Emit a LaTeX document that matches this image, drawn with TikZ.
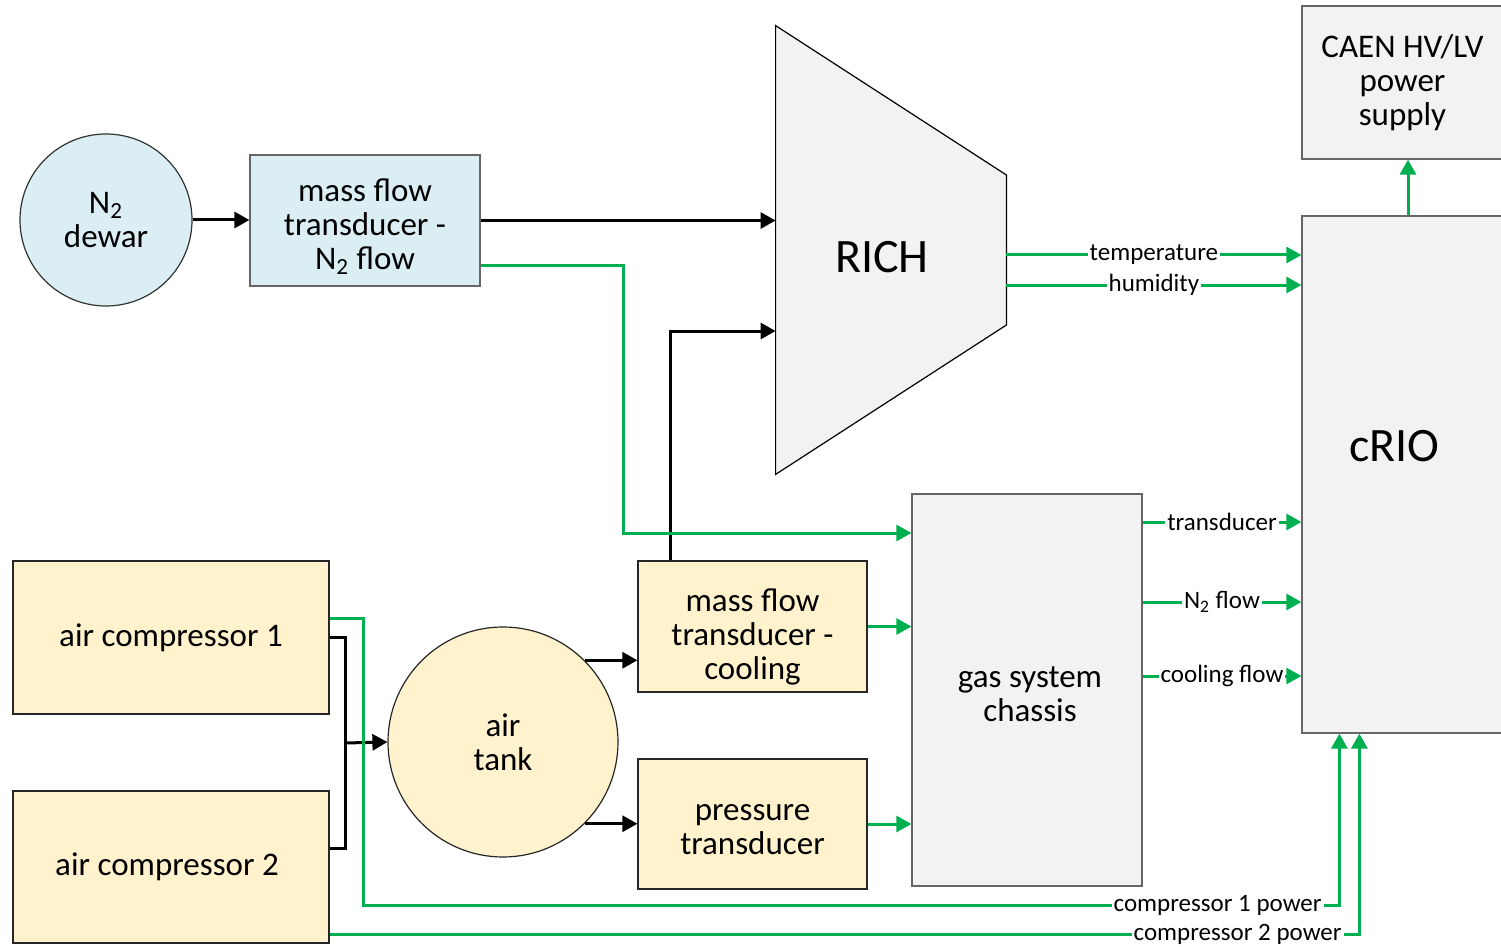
\documentclass[tikz,border=0pt]{standalone}
\usepackage{fontspec}
\setmainfont{Carlito}
\usetikzlibrary{arrows.meta,calc}

\definecolor{sigGreen}{RGB}{0,176,80}
\definecolor{boxGray}{RGB}{242,242,242}
\definecolor{boxYellow}{RGB}{255,242,204}
\definecolor{boxBlue}{RGB}{218,238,243}

\newcommand{\bodyfont}{\fontsize{16.5}{17}\selectfont}
\newcommand{\tagfont}{\fontsize{12.5}{13}\selectfont}
\newcommand{\bigfont}{\fontsize{24}{26}\selectfont}

\tikzset{
  block/.style={draw, line width=0.6pt, align=center, inner sep=0pt, font=\bodyfont},
  grayblock/.style={block, draw=black!60, fill=boxGray},
  yellowblock/.style={block, draw=black!85, fill=boxYellow},
  blueblock/.style={block, draw=black!60, fill=boxBlue},
  wire/.style={line width=1.5pt, -{Triangle[length=7.5pt,width=8pt]}},
  sig/.style={wire, color=sigGreen},
  tag/.style={fill=white, inner xsep=1pt, inner ysep=0pt, font=\tagfont, text=black}
}

\begin{document}
\begin{tikzpicture}[x=0.5pt,y=-0.5pt]
\useasboundingbox (0,0) rectangle (1501,947);

\node[blueblock, circle, draw=black!80, minimum size=86pt] (dewar) at (106,220) {N\textsubscript{2}\\dewar};
\node[blueblock, minimum width=115pt, minimum height=65.5pt,
  label={[font=\bodyfont, align=center, yshift=-3pt]center:mass flow\\transducer -\\N\textsubscript{2} flow}] (mftn) at (365,220.5) {};

\node[minimum width=115pt, minimum height=224pt, inner sep=0pt] (rich) at (891,250) {};
\draw[line width=0.6pt, fill=boxGray] (rich.north west) -- ($(rich.east)+(0,-75)$)
  -- ($(rich.east)+(0,75)$) -- (rich.south west) -- cycle;
\node[font=\bigfont] (richtext) at (882,257) {RICH};

\node[grayblock, minimum width=100.5pt, minimum height=76.5pt] (caen) at (1402.5,82.5) {CAEN HV/LV\\power\\supply};
\node[grayblock, minimum width=100.5pt, minimum height=258.5pt,
  label={[font=\bigfont, xshift=-4pt, yshift=14pt]center:cRIO}] (crio) at (1402.5,474.5) {};
\node[grayblock, minimum width=115pt, minimum height=196pt,
  label={[font=\bodyfont, align=center, xshift=1.5pt, yshift=-2pt]center:gas system\\chassis}] (gas) at (1027,690) {};

\node[yellowblock, minimum width=158pt, minimum height=76.5pt] (comp1) at (171,637.5) {air compressor 1};
\node[yellowblock, minimum width=158pt, minimum height=76pt,
  label={[font=\bodyfont, xshift=-2pt]center:air compressor 2}] (comp2) at (171,867) {};
\node[yellowblock, circle, minimum size=115pt] (tank) at (503,742) {air\\tank};
\node[yellowblock, minimum width=114.5pt, minimum height=65.5pt,
  label={[font=\bodyfont, align=center, yshift=-5pt]center:mass flow\\transducer -\\cooling}] (mftc) at (752.5,626.5) {};
\node[yellowblock, minimum width=114.5pt, minimum height=65pt,
  label={[font=\bodyfont, align=center, yshift=-3pt]center:pressure\\transducer}] (press) at (752.5,824) {};

\draw[wire] (dewar.east) -- (dewar.east -| mftn.west);
\draw[wire] (mftn.east) -- (mftn.east -| rich.west);
\draw[wire] ([xshift=16.5pt]mftc.north west) |- (rich.west |- 0,331);
\draw[sig] (mftn.east |- 0,265) -| (623,533) -- (gas.west |- 0,533);
\draw[sig] (mftc.east) -- (mftc.east -| gas.west);
\draw[sig] (press.east) -- (press.east -| gas.west);
\draw[wire] (tank.45) -- (tank.45 -| mftc.west);
\draw[wire] (tank.-45) -- (tank.-45 -| press.west);

\coordinate (join) at (345,743);
\draw[line width=1.5pt] (comp1.east) -| (join) |- (comp2.east |- 0,848);
\draw[wire] (join) -- (tank.west);

\draw[sig] (rich.east |- 0,255) -- node[tag]{temperature} (crio.west |- 0,255);
\draw[sig] (rich.east |- 0,285) -- node[tag]{humidity} (crio.west |- 0,285);
\draw[sig] (gas.east |- 0,522) -- node[tag]{transducer} (crio.west |- 0,522);
\draw[sig] (gas.east |- 0,602) -- node[tag]{N\textsubscript{2} flow} (crio.west |- 0,602);
\draw[sig] (gas.east |- 0,676) -- node[tag]{cooling flow} (crio.west |- 0,676);
\draw[sig] (crio.north -| 1408,0) -- (caen.south -| 1408,0);

\draw[sig] (comp1.east |- 0,618) -| (363,905) -| ([xshift=19pt]crio.south west);
\node[tag, anchor=east] (c1tag) at (1324,905) {compressor 1 power};
\draw[sig] (comp2.east |- 0,934) -| ([xshift=29pt]crio.south west);
\node[tag, anchor=east] (c2tag) at (1344,934) {compressor 2 power};
\end{tikzpicture}
\end{document}
